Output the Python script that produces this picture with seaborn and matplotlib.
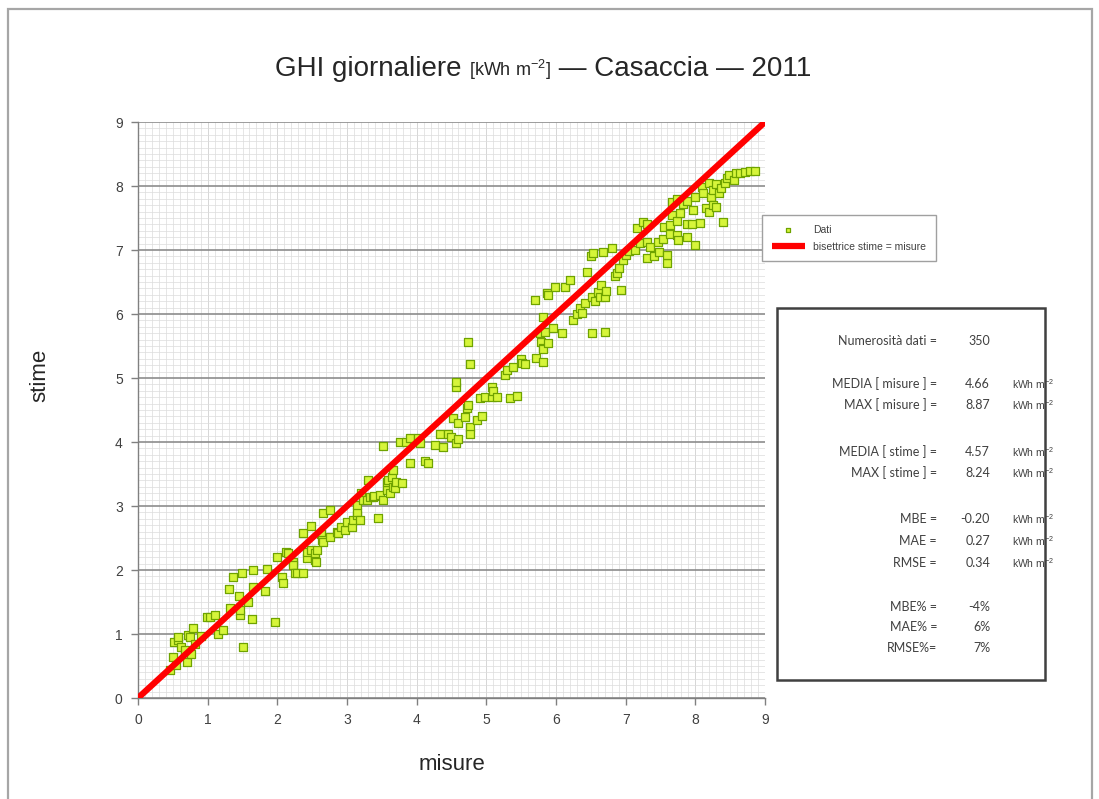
import numpy as np
import pandas as pd
import seaborn as sns
import matplotlib.pyplot as plt
from matplotlib.patches import Rectangle
from matplotlib.ticker import MultipleLocator

misure = [0.46, 0.50, 0.51, 0.57, 0.58, 0.62, 0.67, 0.70, 0.72, 0.75, 0.76, 0.79, 0.82, 0.55, 0.90,
          0.99, 1.03, 1.10, 1.15, 1.22, 1.30, 1.32, 1.37, 1.45, 1.46, 1.47, 1.49, 1.51, 1.58, 1.63,
          1.65, 1.65, 1.82, 1.85, 1.97, 1.99, 2.06, 2.08, 2.13, 2.15, 2.23, 2.23, 2.25, 2.28, 2.37,
          2.37, 2.42, 2.42, 2.48, 2.49, 2.54, 2.54, 2.56, 2.57, 2.62, 2.64, 2.66, 2.66, 2.75, 2.75,
          2.85, 2.87, 2.92, 2.97, 3.00, 3.07, 3.09, 3.14, 3.15, 3.19, 3.14, 3.20, 3.23, 3.28, 3.30,
          3.33, 3.37, 3.39, 3.44, 3.47, 3.52, 3.52, 3.57, 3.57, 3.59, 3.62, 3.64, 3.66, 3.66, 3.69,
          3.70, 3.76, 3.79, 3.85, 3.90, 3.90, 4.02, 4.05, 4.12, 4.16, 4.26, 4.33, 4.38, 4.45, 4.50,
          4.52, 4.57, 4.57, 4.57, 4.59, 4.60, 4.69, 4.72, 4.73, 4.74, 4.76, 4.76, 4.76, 4.86, 4.91,
          4.94, 4.98, 5.08, 5.08, 5.10, 5.16, 5.27, 5.29, 5.34, 5.38, 5.44, 5.50, 5.51, 5.55, 5.70,
          5.72, 5.77, 5.79, 5.81, 5.81, 5.81, 5.84, 5.81, 5.88, 5.87, 5.88, 5.96, 5.98, 6.08, 6.13,
          6.20, 6.24, 6.30, 6.35, 6.37, 6.41, 6.44, 6.50, 6.51, 6.51, 6.53, 6.56, 6.60, 6.63, 6.65,
          6.67, 6.70, 6.70, 6.72, 6.80, 6.84, 6.87, 6.90, 6.94, 6.96, 7.01, 7.05, 7.13, 7.16, 7.20,
          7.25, 7.30, 7.30, 7.30, 7.35, 7.40, 7.46, 7.48, 7.53, 7.55, 7.59, 7.60, 7.63, 7.63, 7.66,
          7.66, 7.73, 7.73, 7.73, 7.75, 7.78, 7.82, 7.88, 7.88, 7.88, 7.95, 7.96, 7.99, 7.99, 8.06,
          8.09, 8.11, 8.16, 8.19, 8.20, 8.22, 8.25, 8.25, 8.30, 8.30, 8.34, 8.37, 8.39, 8.42, 8.45,
          8.49, 8.55, 8.59, 8.64, 8.71, 8.78, 8.85]
stime = [0.44, 0.64, 0.88, 0.90, 0.96, 0.80, 0.75, 0.57, 0.98, 0.95, 0.68, 1.09, 0.85, 0.52, 0.97,
         1.27, 1.27, 1.30, 1.00, 1.06, 1.71, 1.40, 1.89, 1.60, 1.30, 1.38, 1.95, 0.80, 1.50, 1.23,
         2.00, 1.74, 1.67, 2.01, 1.19, 2.20, 1.89, 1.80, 2.28, 2.26, 2.13, 2.08, 1.95, 1.95, 1.95,
         2.58, 2.19, 2.28, 2.31, 2.69, 2.16, 2.27, 2.13, 2.31, 2.56, 2.47, 2.44, 2.89, 2.94, 2.52,
         2.59, 2.58, 2.67, 2.63, 2.75, 2.67, 2.78, 2.86, 2.90, 2.78, 3.02, 3.20, 3.09, 3.09, 3.40,
         3.14, 3.14, 3.16, 2.81, 3.17, 3.09, 3.93, 3.25, 3.38, 3.40, 3.20, 3.45, 3.56, 3.30, 3.28,
         3.38, 4.00, 3.36, 4.00, 3.67, 4.06, 4.06, 3.98, 3.70, 3.67, 3.95, 4.12, 3.92, 4.12, 4.08,
         4.37, 3.98, 4.86, 4.94, 4.29, 4.05, 4.39, 4.53, 5.56, 4.58, 4.23, 4.13, 5.22, 4.34, 4.69,
         4.40, 4.70, 4.86, 4.70, 4.80, 4.70, 5.05, 5.12, 4.69, 5.17, 4.72, 5.30, 5.23, 5.22, 6.22,
         5.31, 5.70, 5.56, 5.95, 5.25, 5.47, 5.72, 5.45, 5.55, 6.33, 6.30, 5.78, 6.42, 5.70, 6.42,
         6.53, 5.90, 6.00, 6.10, 6.01, 6.17, 6.66, 6.90, 5.70, 6.27, 6.95, 6.20, 6.35, 6.27, 6.45,
         6.97, 5.72, 6.27, 6.36, 7.03, 6.60, 6.64, 6.72, 6.38, 6.84, 6.92, 6.98, 7.00, 7.34, 7.11,
         7.44, 7.40, 7.12, 6.88, 7.05, 6.90, 7.12, 6.97, 7.17, 7.36, 6.80, 6.92, 7.39, 7.25, 7.55,
         7.75, 7.23, 7.45, 7.80, 7.16, 7.58, 7.72, 7.20, 7.40, 7.76, 7.40, 7.63, 7.08, 7.83, 7.42,
         7.98, 7.89, 7.66, 7.60, 8.05, 7.83, 7.70, 7.94, 7.67, 8.03, 7.89, 7.97, 7.44, 8.05, 8.12,
         8.17, 8.10, 8.20, 8.20, 8.22, 8.24, 8.24]

bisettrice = [0, 9]

stat_labels = ["Numerosità dati =", "MEDIA [ misure ] =", "MAX [ misure ] =",
               "MEDIA [ stime ] =", "MAX [ stime ] =", "MBE =", "MAE =", "RMSE =",
               "MBE% =", "MAE% =", "RMSE%="]
stat_values = ["350", "4.66", "8.87", "4.57", "8.24", "-0.20", "0.27", "0.34", "-4%", "6%", "7%"]
stat_units = ["", "kWh m$^{-2}$", "kWh m$^{-2}$", "kWh m$^{-2}$", "kWh m$^{-2}$",
              "kWh m$^{-2}$", "kWh m$^{-2}$", "kWh m$^{-2}$", "", "", ""]

df = pd.DataFrame({"misure": misure, "stime": stime})
line_df = pd.DataFrame({"x": bisettrice, "y": bisettrice})

sns.set_style("white")
plt.rcParams['font.family'] = ['Liberation Sans', 'DejaVu Sans']
plt.rcParams['mathtext.fontset'] = 'custom'
plt.rcParams['mathtext.rm'] = 'Liberation Sans'

W, H = 1099, 799
fig = plt.figure(figsize=(W / 100, H / 100), dpi=100)
ax = fig.add_axes([138 / W, 1 - 698 / H, (765 - 138) / W, (698 - 122) / H])

# outer frame of the picture
fig.patches.append(Rectangle((8 / W, -0.01), (1092 - 8) / W, 1 - 9 / H + 0.01,
                             transform=fig.transFigure, fill=False,
                             edgecolor='#a6a6a6', lw=1.6))

sns.scatterplot(data=df, x="misure", y="stime", ax=ax, marker='s', s=26,
                color='#d6f53a', edgecolor='#6fa300', linewidth=0.9,
                label="Dati", zorder=3)
sns.lineplot(data=line_df, x="x", y="y", ax=ax, color='#ff0000', lw=4.5,
             label="bisettrice stime = misure", zorder=4, solid_capstyle='butt')

ax.set_xlim(0, 9)
ax.set_ylim(0, 9)
ax.xaxis.set_major_locator(MultipleLocator(1))
ax.yaxis.set_major_locator(MultipleLocator(1))
ax.xaxis.set_minor_locator(MultipleLocator(0.1))
ax.yaxis.set_minor_locator(MultipleLocator(0.1))
ax.grid(which='minor', color='#dcdcdc', lw=0.5)
ax.grid(which='major', axis='x', color='#d0d0d0', lw=0.6)
ax.grid(which='major', axis='y', color='#8c8c8c', lw=1.2)
ax.set_axisbelow(True)
for s in ['top', 'right']:
    ax.spines[s].set_visible(False)
for s in ['left', 'bottom']:
    ax.spines[s].set_color('#808080')
    ax.spines[s].set_linewidth(1.0)
ax.tick_params(which='major', direction='out', length=5, width=1, color='#808080',
               labelsize=10, labelcolor='#404040', left=True, bottom=True, pad=6)
ax.tick_params(which='minor', length=0)
ax.set_xlabel("")
ax.set_ylabel("")

fig.text(452 / W, 1 - 765 / H, "misure", fontsize=16, ha='center', va='center', color='#262626')
fig.text(40 / W, 1 - 375 / H, "stime", fontsize=16, ha='center', va='center',
         rotation=90, color='#262626')

# title made of three pieces (unit part is smaller)
t1 = fig.text(275 / W, 1 - 82 / H, "GHI giornaliere ", fontsize=20, ha='left',
              va='bottom', color='#262626')
t2 = fig.add_artist(plt.Annotation("[kWh m$^{-2}$]", xy=(1, 0), xycoords=t1,
                                   fontsize=13, va='bottom', ha='left', color='#262626'))
t3 = fig.add_artist(plt.Annotation(" — Casaccia — 2011", xy=(1, 0), xycoords=t2,
                                   fontsize=20, va='bottom', ha='left', color='#262626'))

leg = ax.legend(loc='upper left', bbox_to_anchor=(757 / W, 1 - 210 / H),
                bbox_transform=fig.transFigure, fontsize=7.5, frameon=True,
                fancybox=False, framealpha=1, edgecolor='#a0a0a0',
                handlelength=3.2, borderpad=0.9, labelspacing=0.7, markerscale=0.6)
for txt in leg.get_texts():
    txt.set_color('#404040')

# statistics box
fig.patches.append(Rectangle((777 / W, 1 - 680 / H), (1045 - 777) / W, (680 - 308) / H,
                             transform=fig.transFigure, fill=False,
                             edgecolor='#404040', lw=1.8))
rows_y = [341, 384, 405, 452, 473, 519, 541, 563, 607, 627, 648]
for yy, lab, val, unit in zip(rows_y, stat_labels, stat_values, stat_units):
    fy = 1 - yy / H
    fig.text(937 / W, fy, lab, fontsize=9, ha='right', va='center', color='#404040',
             family=['Lato', 'DejaVu Sans'])
    fig.text(990 / W, fy, val, fontsize=9, ha='right', va='center', color='#404040',
             family=['Lato', 'DejaVu Sans'])
    if unit:
        fig.text(1012 / W, fy, unit, fontsize=7.5, ha='left', va='center', color='#404040')

fig.savefig("out.png", dpi=100)
